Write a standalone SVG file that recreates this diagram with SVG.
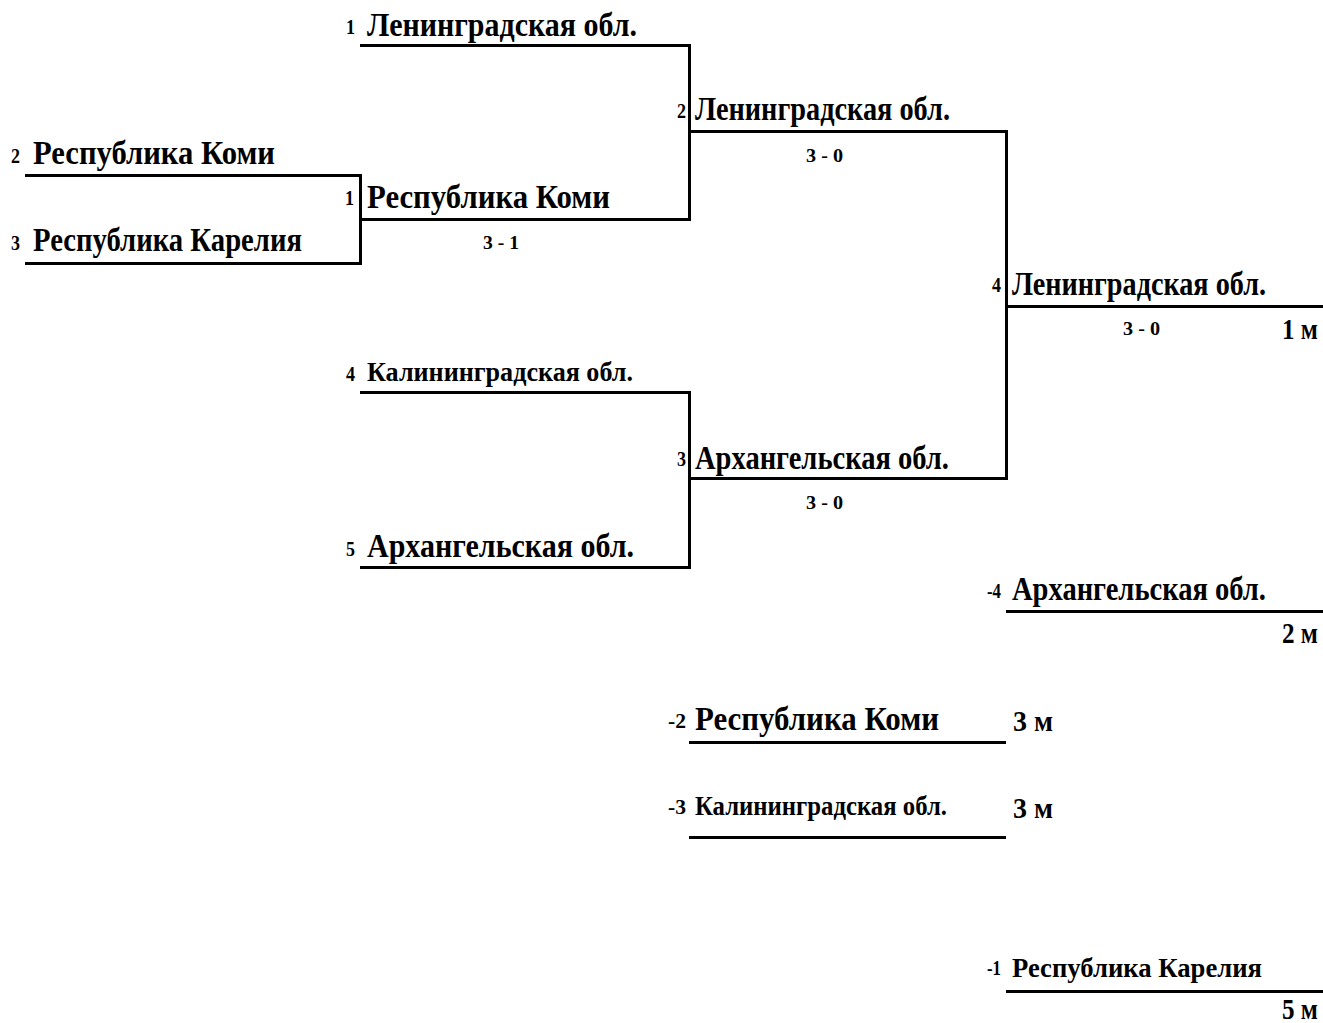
<svg xmlns="http://www.w3.org/2000/svg" width="1323" height="1023" viewBox="0 0 1323 1023">
<style>
text{font-family:"Liberation Serif","Times New Roman",serif;font-weight:bold;fill:#000}
.n{font-size:33px}
.m{font-size:27px}
.s{font-size:20px}
.sc{font-size:19px}
.pl{font-size:29px}
.ln{fill:none;stroke:#000;stroke-width:3}
</style>
<rect width="1323" height="1023" fill="#fff"/>
<g id="connectors">
<path class="ln" d="M360,45.5 H689.5 V219.5 H360"/>
<path class="ln" d="M25,175.5 H360.5 V263.5 H25"/>
<path class="ln" d="M689.5,131.5 H1006.5 V478.5 H689.5"/>
<path class="ln" d="M360,392.5 H689.5 V567.5 H360"/>
<path class="ln" d="M1006.5,306.5 H1323"/>
<path class="ln" d="M1006,611.5 H1323"/>
<path class="ln" d="M689,742.5 H1006"/>
<path class="ln" d="M689,837.5 H1006"/>
<path class="ln" d="M1006,991.5 H1323"/>
</g>
<g id="r1a"><text class="s" x="346" y="34" textLength="9" lengthAdjust="spacingAndGlyphs">1</text><text class="n" x="367" y="36" textLength="270" lengthAdjust="spacingAndGlyphs">Ленинградская обл.</text></g>
<g id="r1b"><text class="s" x="11" y="163" textLength="9" lengthAdjust="spacingAndGlyphs">2</text><text class="n" x="33" y="164" textLength="242" lengthAdjust="spacingAndGlyphs">Республика Коми</text></g>
<g id="r1c"><text class="s" x="11" y="250" textLength="9" lengthAdjust="spacingAndGlyphs">3</text><text class="n" x="33" y="251" textLength="269" lengthAdjust="spacingAndGlyphs">Республика Карелия</text></g>
<g id="m1"><text class="s" x="345" y="205" textLength="9" lengthAdjust="spacingAndGlyphs">1</text><text class="n" x="367" y="208" textLength="243" lengthAdjust="spacingAndGlyphs">Республика Коми</text><text class="sc" x="483" y="249" textLength="36" lengthAdjust="spacingAndGlyphs">3 - 1</text></g>
<g id="m2"><text class="s" x="677" y="118" textLength="9" lengthAdjust="spacingAndGlyphs">2</text><text class="n" x="695" y="120" textLength="255" lengthAdjust="spacingAndGlyphs">Ленинградская обл.</text><text class="sc" x="806" y="162" textLength="37" lengthAdjust="spacingAndGlyphs">3 - 0</text></g>
<g id="r1d"><text class="s" x="346" y="381" textLength="9" lengthAdjust="spacingAndGlyphs">4</text><text class="m" x="367" y="381" textLength="266" lengthAdjust="spacingAndGlyphs">Калининградская обл.</text></g>
<g id="m3"><text class="s" x="677" y="466" textLength="9" lengthAdjust="spacingAndGlyphs">3</text><text class="n" x="695" y="469" textLength="254" lengthAdjust="spacingAndGlyphs">Архангельская обл.</text><text class="sc" x="806" y="509" textLength="37" lengthAdjust="spacingAndGlyphs">3 - 0</text></g>
<g id="r1e"><text class="s" x="346" y="556" textLength="9" lengthAdjust="spacingAndGlyphs">5</text><text class="n" x="367" y="557" textLength="267" lengthAdjust="spacingAndGlyphs">Архангельская обл.</text></g>
<g id="m4"><text class="s" x="992" y="292" textLength="9" lengthAdjust="spacingAndGlyphs">4</text><text class="n" x="1012" y="295" textLength="254" lengthAdjust="spacingAndGlyphs">Ленинградская обл.</text><text class="sc" x="1123" y="335" textLength="37" lengthAdjust="spacingAndGlyphs">3 - 0</text><text class="pl" x="1282" y="339" textLength="36" lengthAdjust="spacingAndGlyphs">1 м</text></g>
<g id="p2"><text class="s" x="987" y="598" textLength="14" lengthAdjust="spacingAndGlyphs">-4</text><text class="n" x="1012" y="600" textLength="254" lengthAdjust="spacingAndGlyphs">Архангельская обл.</text><text class="pl" x="1282" y="643" textLength="36" lengthAdjust="spacingAndGlyphs">2 м</text></g>
<g id="p3a"><text class="s" x="668" y="728" textLength="18" lengthAdjust="spacingAndGlyphs">-2</text><text class="n" x="695" y="730" textLength="244" lengthAdjust="spacingAndGlyphs">Республика Коми</text><text class="pl" x="1013" y="731" textLength="40" lengthAdjust="spacingAndGlyphs">3 м</text></g>
<g id="p3b"><text class="s" x="668" y="814" textLength="18" lengthAdjust="spacingAndGlyphs">-3</text><text class="m" x="695" y="815" textLength="252" lengthAdjust="spacingAndGlyphs">Калининградская обл.</text><text class="pl" x="1013" y="818" textLength="40" lengthAdjust="spacingAndGlyphs">3 м</text></g>
<g id="p5"><text class="s" x="987" y="975" textLength="14" lengthAdjust="spacingAndGlyphs">-1</text><text class="m" x="1012" y="977" textLength="250" lengthAdjust="spacingAndGlyphs">Республика Карелия</text><text class="pl" x="1282" y="1019" textLength="36" lengthAdjust="spacingAndGlyphs">5 м</text></g>
</svg>
